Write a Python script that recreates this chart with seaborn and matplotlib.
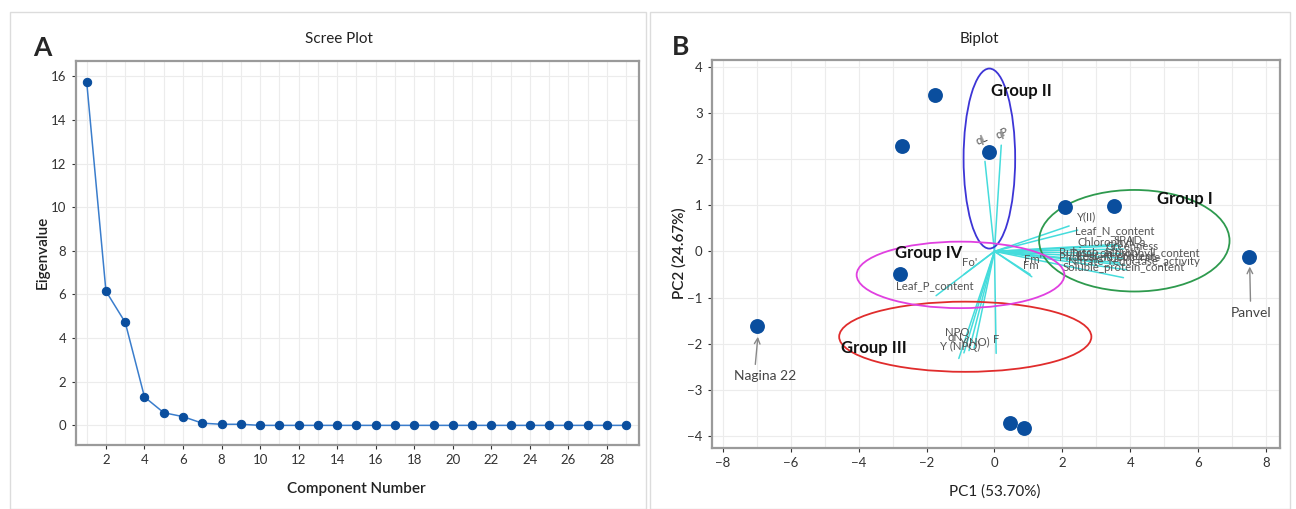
import numpy as np
import pandas as pd
import matplotlib
matplotlib.use("Agg")
import matplotlib.pyplot as plt
from matplotlib.patches import Ellipse, Rectangle
import seaborn as sns

# ---------------- data ----------------
components = list(range(1, 30))
eigenvalues = [15.75, 6.15, 4.72, 1.30, 0.58, 0.40, 0.10, 0.05, 0.05] + [0.0] * 20

score_pc1 = [-1.75, -2.72, -0.16, 2.07, 3.53, 7.49, -2.79, -7.00, 0.46, 0.86]
score_pc2 = [3.39, 2.28, 2.16, 0.97, 0.99, -0.12, -0.50, -1.61, -3.71, -3.82]

load_names = ["qL", "qP", "Y(II)", "Leaf_N_content", "Chlorophyll_a", "SPAD",
              "Greenness", "Total_chlorophyll_content", "Rubisco_activity",
              "Photosynthetic_rate", "Nitrate_reductase_activity", "Leaf_K_content",
              "Soluble_protein_content", "Fm'", "Fm", "Fo'", "Leaf_P_content",
              "NPQ", "qN", "Y (NPQ)", "Y(NO)", "F"]
load_pc1 = [-0.28, 0.20, 2.20, 2.45, 3.60, 3.70, 3.80, 3.75, 3.80, 3.70, 3.85, 3.90,
            3.80, 1.05, 1.10, -0.90, -1.72, -1.05, -0.90, -0.75, -0.60, 0.05]
load_pc2 = [1.95, 2.30, 0.55, 0.46, 0.15, 0.12, 0.05, -0.05, -0.15, -0.25, -0.30, -0.40,
            -0.57, -0.50, -0.55, -0.50, -0.96, -2.32, -2.20, -2.15, -2.10, -2.21]
label_pc1 = [-0.38, 0.22, 2.70, 3.55, 3.45, 3.95, 4.05, 4.15, 3.10, 3.40, 4.10, 3.60,
             3.80, 1.15, 1.08, -0.72, -1.76, -1.10, -1.15, -1.00, -0.55, 0.05]
label_pc2 = [2.42, 2.55, 0.75, 0.45, 0.19, 0.24, 0.10, -0.04, -0.02, -0.14, -0.22, -0.10,
             -0.35, -0.18, -0.30, -0.25, -0.74, -1.75, -1.87, -2.07, -1.95, -1.92]
label_rot = [25, 25, 0, 0, 0, 0, 0, 0, 0, 0, 0, 0, 0, 0, 0, 0, 0, 0, 0, 0, 0, 0]

group_names = ["Group I", "Group II", "Group III", "Group IV"]
group_cx = [4.12, -0.15, -0.86, -1.00]
group_cy = [0.23, 2.01, -1.85, -0.51]
group_w = [5.61, 1.52, 7.43, 6.12]
group_h = [2.20, 3.90, 1.52, 1.44]
group_colors = ["#2E9A4E", "#3D35D6", "#E02C2C", "#E040E0"]
group_lab_x = [5.60, 0.78, -3.55, -1.95]
group_lab_y = [1.13, 3.47, -2.10, -0.04]

# ---------------- style ----------------
sns.set_theme(style="whitegrid")
plt.rcParams["font.family"] = ["Lato", "DejaVu Sans"]
plt.rcParams["grid.color"] = "#ececec"
plt.rcParams["grid.linewidth"] = 0.8

fig = plt.figure(figsize=(12.96, 5.09), dpi=100)
fig.patch.set_facecolor("white")

# panel frames
fig.add_artist(Rectangle((10 / 1296, 0), 636 / 1296, 1 - 12 / 509, transform=fig.transFigure,
                         fill=False, edgecolor="#dcdcdc", linewidth=1.0))
fig.add_artist(Rectangle((650 / 1296, 0), 640 / 1296, 1 - 12 / 509, transform=fig.transFigure,
                         fill=False, edgecolor="#dcdcdc", linewidth=1.0))

ax1 = fig.add_axes([75.5 / 1296, 1 - 445 / 509, (639 - 75.5) / 1296, (445 - 61) / 509])
ax2 = fig.add_axes([711.7 / 1296, 1 - 448 / 509, (1279.6 - 711.7) / 1296, (448 - 60) / 509])

for ax in (ax1, ax2):
    for s in ax.spines.values():
        s.set_color("#9a9a9a")
        s.set_linewidth(1.6)
    ax.tick_params(axis="both", labelsize=9.5, colors="#333333", length=3, width=0.8,
                   direction="out", left=True, bottom=True)
    ax.set_facecolor("white")

# ---------------- Scree plot ----------------
scree = pd.DataFrame({"Component": components, "Eigenvalue": eigenvalues})
sns.lineplot(data=scree, x="Component", y="Eigenvalue", ax=ax1, color="#3A7DCC",
             linewidth=1.1, marker="o", markersize=6, markerfacecolor="#0A4E9E",
             markeredgecolor="#0A4E9E")
ax1.set_xlim(0.42, 29.66)
ax1.set_ylim(-0.9, 16.7)
ax1.set_xticks(range(2, 29, 2))
ax1.set_yticks(range(0, 17, 2))
ax1.set_xlabel("")
ax1.set_ylabel("")
ax1.xaxis.set_minor_locator(matplotlib.ticker.MultipleLocator(1))
ax1.grid(True, which="both", axis="x")
ax1.tick_params(axis="x", which="minor", length=0)

# ---------------- Biplot ----------------
for x, y in zip(load_pc1, load_pc2):
    ax2.plot([0, x], [0, y], color="#45DCDC", linewidth=1.1, zorder=2)
for name, x, y, r in zip(load_names, label_pc1, label_pc2, label_rot):
    ax2.text(x, y, name, fontsize=8.2, color="#555555", ha="center", va="center",
             rotation=r, zorder=3)

scores = pd.DataFrame({"PC1": score_pc1, "PC2": score_pc2})
sns.scatterplot(data=scores, x="PC1", y="PC2", ax=ax2, s=115, color="#0A4E9E",
                edgecolor="#0A4E9E", linewidth=0, zorder=4)

for cx, cy, w, h, c in zip(group_cx, group_cy, group_w, group_h, group_colors):
    ax2.add_patch(Ellipse((cx, cy), w, h, fill=False, edgecolor=c, linewidth=1.3, zorder=3))
for name, x, y in zip(group_names, group_lab_x, group_lab_y):
    ax2.text(x, y, name, fontsize=12, fontweight="bold", color="#111111",
             ha="center", va="center", zorder=5)

ax2.annotate("Panvel", xy=(7.52, -0.33), xytext=(7.55, -1.34), fontsize=10, color="#444444",
             ha="center", va="center",
             arrowprops=dict(arrowstyle="->", color="#888888", lw=1.0, shrinkB=0))
ax2.annotate("Nagina 22", xy=(-6.97, -1.85), xytext=(-6.75, -2.71), fontsize=10, color="#444444",
             ha="center", va="center",
             arrowprops=dict(arrowstyle="->", color="#888888", lw=1.0, shrinkB=0,
                             relpos=(0.33, 1.0)))

ax2.set_xlim(-8.33, 8.40)
ax2.set_ylim(-4.26, 4.145)
ax2.set_xticks(range(-8, 9, 2))
ax2.set_yticks(range(-4, 5, 1))
ax2.set_xlabel("")
ax2.set_ylabel("")
ax2.xaxis.set_minor_locator(matplotlib.ticker.MultipleLocator(1))
ax2.grid(True, which="both", axis="x")
ax2.tick_params(axis="x", which="minor", length=0)

# ---------------- texts ----------------
fig.text(42 / 1296, 1 - 48 / 509, "A", fontsize=19, fontweight="bold", ha="center", va="center")
fig.text(681 / 1296, 1 - 47 / 509, "B", fontsize=19, fontweight="bold", ha="center", va="center")
fig.text(339 / 1296, 1 - 39 / 509, "Scree Plot", fontsize=11, color="#222222", ha="center", va="center")
fig.text(979 / 1296, 1 - 39 / 509, "Biplot", fontsize=11, color="#222222", ha="center", va="center")
fig.text(356 / 1296, 1 - 489 / 509, "Component Number", fontsize=11, fontweight="semibold",
         color="#222222", ha="center", va="center")
fig.text(995 / 1296, 1 - 492 / 509, "PC1 (53.70%)", fontsize=11, color="#222222",
         ha="center", va="center")
fig.text(43 / 1296, 1 - 252 / 509, "Eigenvalue", fontsize=11, fontweight="semibold",
         color="#222222", ha="center", va="center", rotation=90)
fig.text(679 / 1296, 1 - 253 / 509, "PC2 (24.67%)", fontsize=11, fontweight="semibold",
         color="#222222", ha="center", va="center", rotation=90)

fig.savefig("out.png", dpi=100, facecolor="white")
